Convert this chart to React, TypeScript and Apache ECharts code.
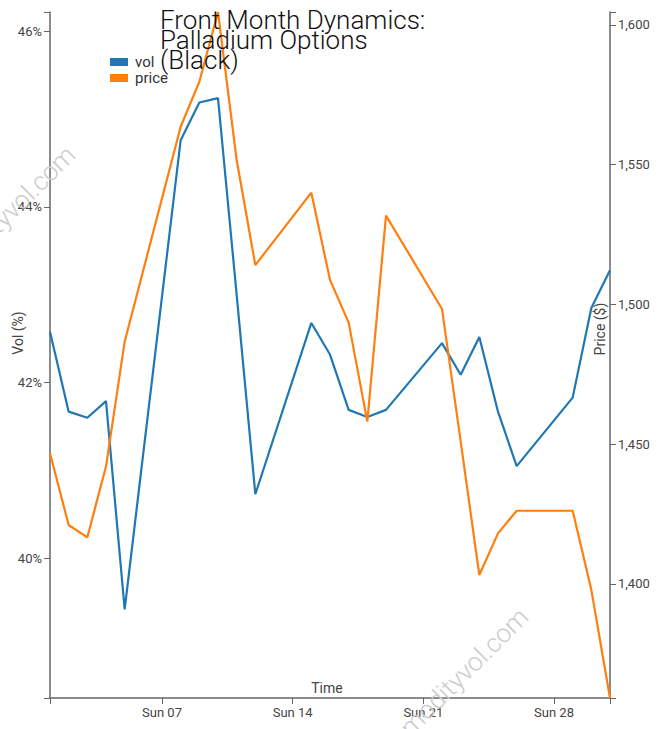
import React, { useEffect, useRef } from "react";
import * as echarts from "echarts";

const days = [1, 2, 3, 4, 5, 8, 9, 10, 11, 12, 15, 16, 17, 18, 19, 22, 23, 24, 25, 26, 29, 30, 31];
const vol = [42.58, 41.67, 41.6, 41.79, 39.42, 44.76, 45.19, 45.24, 43.0, 40.73, 42.68, 42.32, 41.69, 41.61, 41.69, 42.45, 42.09, 42.52, 41.67, 41.05, 41.83, 42.85, 43.28];
const price = [1446.8, 1421.1, 1416.7, 1442.0, 1486.7, 1563.6, 1579.7, 1604.6, 1551.7, 1514.1, 1540.0, 1508.8, 1493.5, 1458.1, 1531.8, 1498.4, 1451.0, 1403.2, 1418.1, 1426.2, 1426.2, 1397.9, 1359.2];
const volTicks = [40, 42, 44, 46];
const priceTicks = [1400, 1450, 1500, 1550, 1600];
const sundayTicks = [7, 14, 21, 28];
const volRange = [38.41, 46.22];
const priceRange = [1359.2, 1604.65];

const YEAR = 2023;
const MONTH = 4; // May
const ts = (d: number) => new Date(YEAR, MONTH, d).getTime();
const dayNames = ["Sun", "Mon", "Tue", "Wed", "Thu", "Fri", "Sat"];

export default function App() {
  const ref = useRef<HTMLDivElement>(null);
  useEffect(() => {
    if (!ref.current) return;
    const chart = echarts.init(ref.current, null, { renderer: "svg" });
    const font = "Roboto";
    const axisColor = "#666";
    const labelColor = "#444";
    const xMin = ts(1);
    const xMax = ts(31);
    chart.setOption({
      animation: false,
      backgroundColor: "#fff",
      textStyle: { fontFamily: font },
      grid: { left: 50, right: 59, top: 12, bottom: 31, containLabel: false },
      title: {
        text: "Front Month Dynamics:\nPalladium Options\n(Black)",
        left: 160,
        top: 10,
        padding: 0,
        textStyle: {
          fontFamily: font,
          fontWeight: 300,
          fontSize: 26,
          lineHeight: 20,
          color: "#111",
        },
        z: 10,
      },
      legend: {
        orient: "vertical",
        left: 110,
        top: 54,
        padding: 0,
        itemWidth: 18,
        itemHeight: 8,
        itemGap: 0,
        icon: "rect",
        textStyle: { fontFamily: font, fontSize: 15, color: "#333", lineHeight: 16, padding: [0, 0, 0, 2] },
        data: ["vol", "price"],
      },
      xAxis: {
        type: "value",
        min: xMin,
        max: xMax,
        splitLine: { show: false },
        axisLine: { lineStyle: { color: axisColor, width: 1.5 } },
        axisTick: {
          length: 6,
          lineStyle: { color: axisColor, width: 1 },
          customValues: [xMin, ...sundayTicks.map(ts), xMax],
        },
        axisLabel: {
          customValues: sundayTicks.map(ts),
          margin: 8,
          fontSize: 13,
          color: labelColor,
          fontFamily: font,
          formatter: (v: number) => {
            const d = new Date(v);
            return dayNames[d.getDay()] + " " + String(d.getDate()).padStart(2, "0");
          },
        },
      },
      yAxis: [
        {
          type: "value",
          min: volRange[0],
          max: volRange[1],
          position: "left",
          splitLine: { show: false },
          axisLine: { show: true, lineStyle: { color: axisColor, width: 1.5 } },
          axisTick: {
            show: true,
            length: 6,
            lineStyle: { color: axisColor, width: 1 },
            customValues: [volRange[0], ...volTicks, volRange[1]],
          },
          axisLabel: {
            customValues: volTicks,
            margin: 8,
            fontSize: 13,
            color: labelColor,
            fontFamily: font,
            formatter: (v: number) => v + "%",
          },
        },
        {
          type: "value",
          min: priceRange[0],
          max: priceRange[1],
          position: "right",
          splitLine: { show: false },
          axisLine: { show: true, lineStyle: { color: axisColor, width: 1.5 } },
          axisTick: {
            show: true,
            length: 6,
            lineStyle: { color: axisColor, width: 1 },
            customValues: [priceRange[0], ...priceTicks, priceRange[1]],
          },
          axisLabel: {
            customValues: priceTicks,
            margin: 8,
            fontSize: 13,
            color: labelColor,
            fontFamily: font,
            formatter: (v: number) => v.toLocaleString("en-US"),
          },
        },
      ],
      graphic: [
        {
          type: "text",
          x: 18,
          y: 333,
          rotation: Math.PI / 2,
          style: { text: "Vol (%)", fontFamily: font, fontSize: 14, fill: labelColor, align: "center", verticalAlign: "middle" },
        },
        {
          type: "text",
          x: 600,
          y: 329,
          rotation: Math.PI / 2,
          style: { text: "Price ($)", fontFamily: font, fontSize: 14, fill: labelColor, align: "center", verticalAlign: "middle" },
        },
        {
          type: "text",
          x: 327,
          y: 688,
          style: { text: "Time", fontFamily: font, fontSize: 14, fill: labelColor, align: "center", verticalAlign: "middle" },
        },
        {
          type: "text",
          x: 446,
          y: 690,
          rotation: Math.PI / 4,
          silent: true,
          z: 100,
          style: { text: "commodityvol.com", fontFamily: font, fontWeight: 300, fontSize: 26, fill: "#ccc", align: "center", verticalAlign: "middle" },
        },
        {
          type: "text",
          x: -7,
          y: 228,
          rotation: Math.PI / 4,
          silent: true,
          z: 100,
          style: { text: "commodityvol.com", fontFamily: font, fontWeight: 300, fontSize: 26, fill: "#ccc", align: "center", verticalAlign: "middle" },
        },
      ],
      series: [
        {
          name: "vol",
          type: "line",
          yAxisIndex: 0,
          showSymbol: false,
          color: "#1f77b4",
          lineStyle: { width: 2.2, color: "#1f77b4" },
          data: days.map((d, i) => [ts(d), vol[i]]),
        },
        {
          name: "price",
          type: "line",
          yAxisIndex: 1,
          showSymbol: false,
          color: "#ff7f0e",
          lineStyle: { width: 2.2, color: "#ff7f0e" },
          data: days.map((d, i) => [ts(d), price[i]]),
        },
      ],
    });
    return () => chart.dispose();
  }, []);
  return <div ref={ref} style={{ position: "fixed", left: 0, top: 0, width: 669, height: 729 }} />;
}
